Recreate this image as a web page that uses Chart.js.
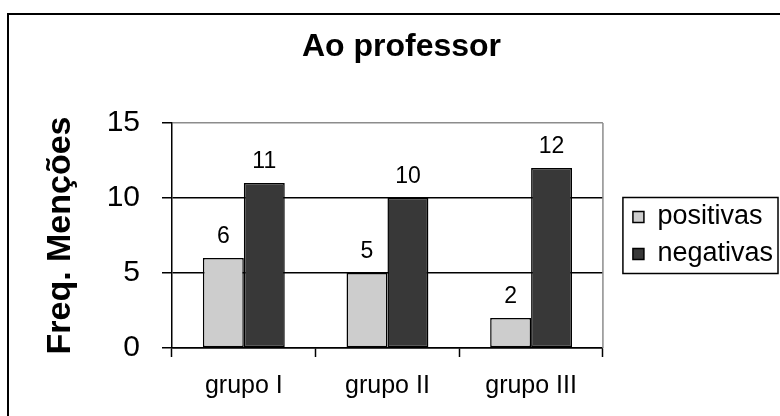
<!DOCTYPE html>
<html lang="pt">
<head>
<meta charset="utf-8">
<title>Ao professor</title>
<script src="https://cdn.jsdelivr.net/npm/chart.js@4.4.1/dist/chart.umd.min.js"></script>
<style>
  html, body { margin: 0; padding: 0; background: #fff; }
  body { width: 780px; height: 416px; position: relative; overflow: hidden; }
  /* outer chart frame, right and bottom edges fall outside the window */
  #frame {
    position: absolute; left: 7px; top: 13px;
    width: 900px; height: 600px;
    border: 2px solid #000; background: #fff;
  }
  #chart { position: absolute; left: 0; top: 0; }
</style>
</head>
<body>
<div id="frame"></div>
<canvas id="chart" width="780" height="416"></canvas>
<script>
// Data
const categories = ['grupo I', 'grupo II', 'grupo III'];
const positivas = [6, 5, 2];
const negativas = [11, 10, 12];
const yMin = 0;
const yMax = 15;
const yStep = 5;

const FONT = "'Liberation Sans', Arial, Helvetica, sans-serif";

// Value written above every bar
const valueLabels = {
  id: 'valueLabels',
  afterDatasetsDraw(chart) {
    const ctx = chart.ctx;
    ctx.save();
    ctx.font = '23px ' + FONT;
    ctx.fillStyle = '#000';
    ctx.textAlign = 'center';
    ctx.textBaseline = 'middle';
    chart.data.datasets.forEach((ds, i) => {
      chart.getDatasetMeta(i).data.forEach((bar, j) => {
        ctx.fillText(String(ds.data[j]), bar.x, bar.y - 21);
      });
    });
    ctx.restore();
  }
};

// Grey right edge of the plot area
const plotEdge = {
  id: 'plotEdge',
  beforeDatasetsDraw(chart) {
    const { ctx, chartArea } = chart;
    ctx.save();
    ctx.strokeStyle = '#8c8c8c';
    ctx.lineWidth = 1.5;
    ctx.beginPath();
    ctx.moveTo(chartArea.right, chartArea.top);
    ctx.lineTo(chartArea.right, chartArea.bottom);
    ctx.stroke();
    ctx.restore();
  }
};

// Legend sits a little right of the plot, centred on it, inside a box
const legendFrame = {
  id: 'legendFrame',
  afterLayout(chart) {
    const legend = chart.legend;
    const area = chart.chartArea;
    const dy = (area.top + area.bottom) / 2 - (legend.top + legend.bottom) / 2;
    legend.left += 20;
    legend.right += 20;
    legend.top += dy;
    legend.bottom += dy;
  },
  afterDraw(chart) {
    const legend = chart.legend;
    const boxes = legend.legendHitBoxes;
    if (!boxes || !boxes.length) return;
    const last = boxes[boxes.length - 1];
    const top = boxes[0].top - 6;
    const bottom = last.top + last.height + 6;
    const ctx = chart.ctx;
    ctx.save();
    ctx.strokeStyle = '#000';
    ctx.lineWidth = 1.5;
    ctx.strokeRect(legend.left, top, chart.width - 2 - legend.left, bottom - top);
    ctx.restore();
  }
};

new Chart(document.getElementById('chart'), {
  type: 'bar',
  data: {
    labels: categories,
    datasets: [
      {
        label: 'positivas',
        data: positivas,
        backgroundColor: '#cdcdcd',
        borderColor: '#000',
        borderWidth: 1.5,
        borderSkipped: false,
        categoryPercentage: 0.57,
        barPercentage: 1
      },
      {
        label: 'negativas',
        data: negativas,
        backgroundColor: '#383838',
        borderColor: '#000',
        borderWidth: 1.5,
        borderSkipped: false,
        categoryPercentage: 0.57,
        barPercentage: 1
      }
    ]
  },
  options: {
    responsive: false,
    animation: false,
    devicePixelRatio: 1,
    layout: { padding: { left: 40, right: 17, top: 0, bottom: 0 } },
    scales: {
      x: {
        grid: {
          offset: true,
          drawOnChartArea: false,
          tickLength: 9,
          tickColor: '#000',
          tickWidth: 1.5
        },
        border: { color: '#000', width: 1.5 },
        ticks: { color: '#000', padding: 14, font: { family: FONT, size: 25 } },
        afterFit(scale) { scale.height = 68; }
      },
      y: {
        min: yMin,
        max: yMax,
        ticks: {
          stepSize: yStep,
          color: '#000',
          padding: 22,
          font: { family: FONT, size: 30 }
        },
        grid: {
          color: ctx => (ctx.tick && ctx.tick.value === yMax ? '#8c8c8c' : '#000'),
          lineWidth: 1.5,
          tickLength: 10,
          tickColor: '#000'
        },
        border: { color: '#000', width: 1.5 },
        title: {
          display: true,
          text: 'Freq. Menções',
          color: '#000',
          padding: { top: 0, bottom: 0 },
          font: { family: FONT, size: 34, weight: 'bold' }
        },
        afterFit(scale) { scale.width = 132; }
      }
    },
    plugins: {
      title: {
        display: true,
        text: 'Ao professor',
        color: '#000',
        padding: { top: 27.6, bottom: 57 },
        font: { family: FONT, size: 32, weight: 'bold' }
      },
      legend: {
        position: 'right',
        labels: {
          color: '#000',
          boxWidth: 11,
          boxHeight: 11,
          padding: 10,
          font: { family: FONT, size: 27 }
        }
      },
      tooltip: { enabled: false }
    }
  },
  plugins: [plotEdge, valueLabels, legendFrame]
});
</script>
</body>
</html>
